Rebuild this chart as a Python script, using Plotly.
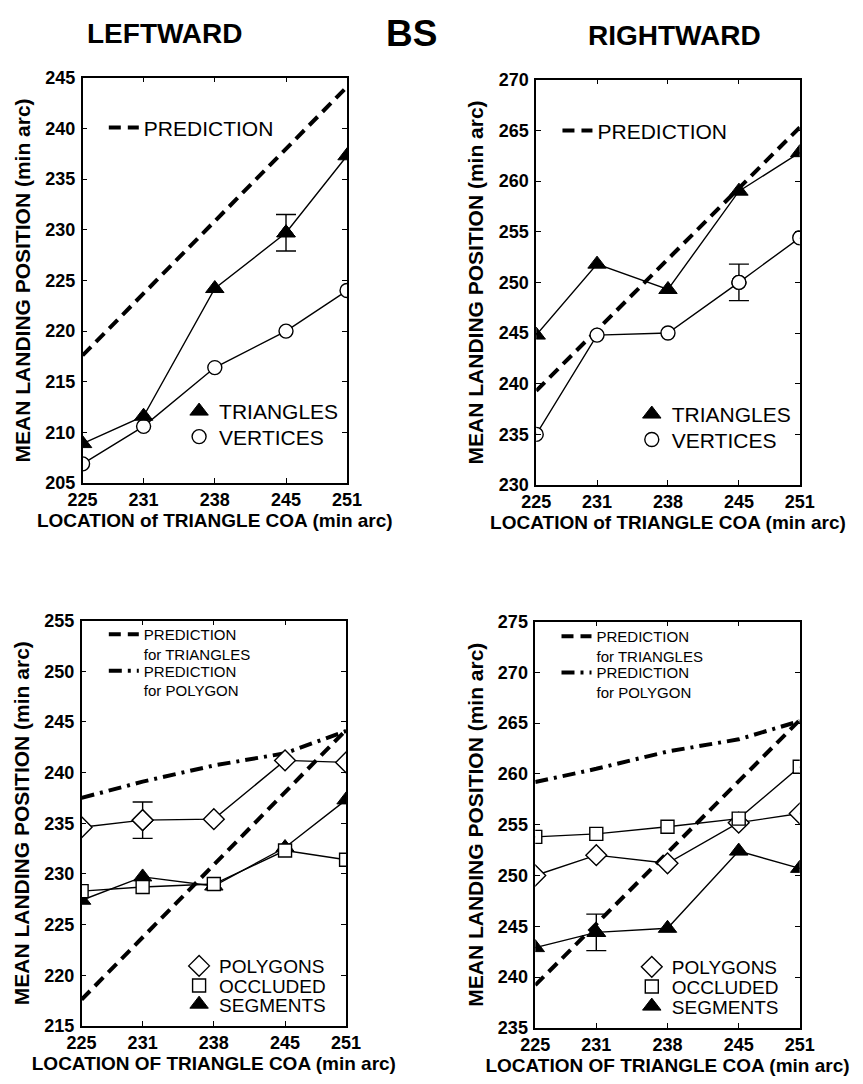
import plotly.graph_objects as go

# ---------------- data ----------------
x_coa = [225, 231, 238, 245, 251]
pred_x = [225, 251]

# LEFTWARD (top-left)
tl_triangles = [208.9, 211.6, 224.2, 229.7, 237.3]
tl_vertices = [206.9, 210.6, 216.4, 220.0, 224.0]
tl_prediction = [217.6, 244.1]
tl_err_index = 3
tl_err = 1.8
tl_yticks = [205, 210, 215, 220, 225, 230, 235, 240, 245]

# RIGHTWARD (top-right)
tr_triangles = [244.8, 251.8, 249.3, 259.0, 262.8]
tr_vertices = [235.0, 244.8, 245.0, 250.0, 254.4]
tr_prediction = [239.3, 265.3]
tr_err_index = 3
tr_err = 1.8
tr_yticks = [230, 235, 240, 245, 250, 255, 260, 265, 270]

# LEFTWARD (bottom-left)
bl_polygons = [234.6, 235.3, 235.4, 241.2, 241.0]
bl_occluded = [228.3, 228.7, 229.0, 232.3, 231.4]
bl_segments = [227.4, 229.7, 228.8, 232.6, 237.3]
bl_pred_triangles = [217.6, 244.2]
bl_pred_polygon = [237.5, 239.1, 240.7, 241.9, 244.1]
bl_err_index = 1
bl_err = 1.8
bl_yticks = [215, 220, 225, 230, 235, 240, 245, 250, 255]

# RIGHTWARD (bottom-right)
br_polygons = [250.0, 252.0, 251.2, 255.2, 256.1]
br_occluded = [253.8, 254.1, 254.8, 255.6, 260.7]
br_segments = [242.9, 244.4, 244.8, 252.4, 250.7]
br_pred_triangles = [239.2, 265.3]
br_pred_polygon = [259.2, 260.5, 262.2, 263.4, 265.2]
br_err_index = 1
br_err = 1.8
br_yticks = [235, 240, 245, 250, 255, 260, 265, 270, 275]

# ---------------- layout helpers ----------------
W, H = 863, 1084
FONT = "Liberation Sans"


def fx(px):
    return px / W


def fy(py):
    return 1 - py / H


BLACK = "black"
LW = 1.4
DASH_PRED = "12px,7px"
DASHDOT_PRED = "13px,6px,3px,6px"

STYLE = {
    "triangle": dict(symbol="triangle-up", size=16, color=BLACK, line=dict(color=BLACK, width=1)),
    "circle": dict(symbol="circle", size=14, color="white", line=dict(color=BLACK, width=1.4)),
    "diamond": dict(symbol="diamond", size=16, color="white", line=dict(color=BLACK, width=1.4)),
    "square": dict(symbol="square", size=13, color="white", line=dict(color=BLACK, width=1.4)),
}

fig = go.Figure()


def add_series(xa, ya, yvals, marker, legend, name, err_index=None, err=None):
    fig.add_trace(go.Scatter(
        x=x_coa, y=yvals, mode="lines+markers", xaxis=xa, yaxis=ya,
        line=dict(color=BLACK, width=LW), marker=STYLE[marker],
        showlegend=False, hoverinfo="skip"))
    if err_index is not None:
        fig.add_trace(go.Scatter(
            x=[x_coa[err_index]], y=[yvals[err_index]], mode="markers",
            xaxis=xa, yaxis=ya, marker=STYLE[marker], showlegend=False,
            error_y=dict(type="constant", value=err, color=BLACK, thickness=LW, width=10),
            hoverinfo="skip"))
    # legend entry (marker only)
    fig.add_trace(go.Scatter(
        x=[None], y=[None], mode="markers", xaxis=xa, yaxis=ya,
        marker=STYLE[marker], name=name, legend=legend, showlegend=True))


def add_prediction(xa, ya, xs, yvals, dash, legend, name):
    fig.add_trace(go.Scatter(
        x=xs, y=yvals, mode="lines", xaxis=xa, yaxis=ya,
        line=dict(color=BLACK, width=4, dash=dash),
        name=name, legend=legend, showlegend=True, hoverinfo="skip"))


# top-left
add_prediction("x", "y", pred_x, tl_prediction, DASH_PRED, "legend", "PREDICTION")
add_series("x", "y", tl_vertices, "circle", "legend3", "VERTICES")
add_series("x", "y", tl_triangles, "triangle", "legend2", "TRIANGLES", tl_err_index, tl_err)

# top-right
add_prediction("x2", "y2", pred_x, tr_prediction, DASH_PRED, "legend4", "PREDICTION")
add_series("x2", "y2", tr_triangles, "triangle", "legend5", "TRIANGLES")
add_series("x2", "y2", tr_vertices, "circle", "legend6", "VERTICES", tr_err_index, tr_err)

# bottom-left
add_prediction("x3", "y3", pred_x, bl_pred_triangles, DASH_PRED, "legend7", "PREDICTION<br>for TRIANGLES")
add_prediction("x3", "y3", x_coa, bl_pred_polygon, DASHDOT_PRED, "legend8", "PREDICTION<br>for POLYGON")
add_series("x3", "y3", bl_polygons, "diamond", "legend9", "POLYGONS", bl_err_index, bl_err)
add_series("x3", "y3", bl_segments, "triangle", "legend11", "SEGMENTS")
add_series("x3", "y3", bl_occluded, "square", "legend10", "OCCLUDED")

# bottom-right
add_prediction("x4", "y4", pred_x, br_pred_triangles, DASH_PRED, "legend12", "PREDICTION<br>for TRIANGLES")
add_prediction("x4", "y4", x_coa, br_pred_polygon, DASHDOT_PRED, "legend13", "PREDICTION<br>for POLYGON")
add_series("x4", "y4", br_polygons, "diamond", "legend14", "POLYGONS")
add_series("x4", "y4", br_segments, "triangle", "legend16", "SEGMENTS", br_err_index, br_err)
add_series("x4", "y4", br_occluded, "square", "legend15", "OCCLUDED")


def xaxis(domain, anchor, title):
    return dict(
        domain=domain, anchor=anchor, range=[225, 251],
        tickvals=x_coa, ticktext=[str(v) for v in x_coa],
        ticks="inside", ticklen=5, tickwidth=1.2, tickcolor=BLACK,
        showline=True, linecolor=BLACK, linewidth=1.5, mirror="ticks",
        showgrid=False, zeroline=False,
        tickfont=dict(family=FONT, size=18, color=BLACK, weight="bold"),
        title=dict(text=title, standoff=3,
                   font=dict(family=FONT, size=19, color=BLACK, weight="bold")),
    )


def yaxis(domain, anchor, ticks):
    return dict(
        domain=domain, anchor=anchor, range=[ticks[0], ticks[-1]],
        tickvals=ticks, ticktext=[str(v) for v in ticks],
        ticks="inside", ticklen=5, tickwidth=1.2, tickcolor=BLACK,
        showline=True, linecolor=BLACK, linewidth=1.5, mirror="ticks",
        showgrid=False, zeroline=False, ticklabelstandoff=2,
        tickfont=dict(family=FONT, size=18, color=BLACK, weight="bold"),
        title=dict(text="MEAN LANDING POSITION (min arc)", standoff=9,
                   font=dict(family=FONT, size=21, color=BLACK, weight="bold")),
    )


top_x_title = "LOCATION of TRIANGLE COA (min arc)"
bot_x_title = "LOCATION OF TRIANGLE COA (min arc)"


def legend(x, y, size, valign="middle"):
    return dict(x=fx(x), y=fy(y), xanchor="left", yanchor="middle",
                bgcolor="rgba(0,0,0,0)", borderwidth=0, valign=valign,
                font=dict(family=FONT, size=size, color=BLACK),
                itemwidth=30, tracegroupgap=0)


fig.update_layout(
    width=W, height=H, margin=dict(l=0, r=0, t=0, b=0),
    paper_bgcolor="white", plot_bgcolor="white",
    font=dict(family=FONT, color=BLACK),
    xaxis=xaxis([fx(70), fx(344)], "y", top_x_title),
    yaxis=yaxis([fy(482), fy(69)], "x", tl_yticks),
    xaxis2=xaxis([fx(540), fx(813)], "y2", top_x_title),
    yaxis2=yaxis([fy(484), fy(71)], "x2", tr_yticks),
    xaxis3=xaxis([fx(69), fx(343)], "y3", bot_x_title),
    yaxis3=yaxis([fy(1035), fy(622)], "x3", bl_yticks),
    xaxis4=xaxis([fx(539), fx(813)], "y4", bot_x_title),
    yaxis4=yaxis([fy(1037), fy(623)], "x4", br_yticks),
    # top-left legends
    legend=legend(92, 120, 21),
    legend2=legend(170, 409, 21),
    legend3=legend(170, 435, 21),
    # top-right legends
    legend4=legend(562, 123, 21),
    legend5=legend(639, 412, 21),
    legend6=legend(639, 438, 21),
    # bottom-left legends
    legend7=legend(92, 646, 15, "top"),
    legend8=legend(92, 683, 15, "top"),
    legend9=legend(170, 974, 19),
    legend10=legend(170, 994, 19),
    legend11=legend(170, 1013, 19),
    # bottom-right legends
    legend12=legend(561, 648, 15, "top"),
    legend13=legend(561, 685, 15, "top"),
    legend14=legend(639, 975, 19),
    legend15=legend(639, 995, 19),
    legend16=legend(639, 1015, 19),
    annotations=[
        dict(text="LEFTWARD", x=fx(155), y=fy(24), xref="paper", yref="paper",
             xanchor="center", yanchor="middle", showarrow=False,
             font=dict(family=FONT, size=28, color=BLACK, weight="bold")),
        dict(text="BS", x=fx(411), y=fy(24), xref="paper", yref="paper",
             xanchor="center", yanchor="middle", showarrow=False,
             font=dict(family=FONT, size=37, color=BLACK, weight="bold")),
        dict(text="RIGHTWARD", x=fx(683), y=fy(26), xref="paper", yref="paper",
             xanchor="center", yanchor="middle", showarrow=False,
             font=dict(family=FONT, size=28, color=BLACK, weight="bold")),
    ],
)

fig.write_html("out.html")
